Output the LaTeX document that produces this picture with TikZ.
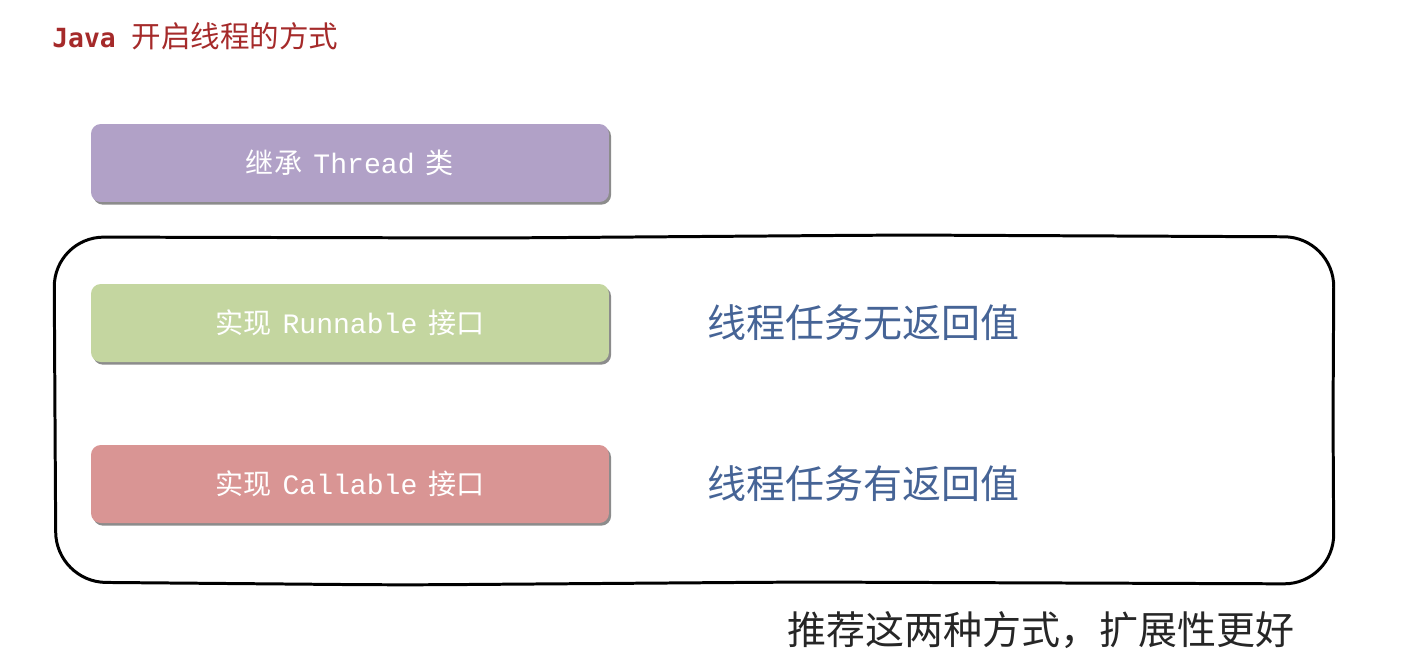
\documentclass[tikz,border=0pt]{standalone}
\usepackage{fontspec}
\setmonofont{Liberation Mono}
\newfontfamily\cjk{Noto Sans CJK SC}
\newfontfamily\javafont{DejaVu Sans Mono}
\usepackage{tikz}
\usetikzlibrary{shapes,positioning,shadows}
\usepackage{xcolor}
\definecolor{titlered}{RGB}{165,42,42}
\definecolor{waypurple}{RGB}{177,161,199}
\definecolor{waygreen}{RGB}{196,214,160}
\definecolor{wayred}{RGB}{217,149,148}
\definecolor{noteblue}{RGB}{70,100,150}

\begin{document}
\begin{tikzpicture}[x=0.02cm, y=-0.02cm,
    way/.style={rectangle, rounded corners=5.5pt, minimum width=10.36cm, minimum height=1.56cm,
        text=white, font=\cjk\fontsize{16}{18}\selectfont,
        drop shadow={shadow xshift=1.2pt, shadow yshift=-1.5pt, fill=black, opacity=0.45}},
    note/.style={font=\cjk\fontsize{22.2}{26}\selectfont, text=noteblue, anchor=west, inner sep=0pt},
    frame/.style={draw=black, line width=1.7pt, rounded corners=1cm}
]
    \useasboundingbox (0,0) rectangle (1406,660);

    % title
    \node[anchor=west, inner sep=0pt, text=titlered] (title) at (52,36)
        {{\javafont\bfseries\fontsize{15}{16}\selectfont Java}\hspace{0.9em}{\cjk\fontsize{16.8}{18}\selectfont 开启线程的方式}};

    % three ways
    \node[way, fill=waypurple] (thread) at (350,163) {继承\hspace{0.4em}{\ttfamily Thread}\hspace{0.4em}类};
    \node[way, fill=waygreen] (runnable) at (350,323) {实现\hspace{0.4em}{\ttfamily Runnable}\hspace{0.4em}接口};
    \node[way, fill=wayred] (callable) at (350,484) {实现\hspace{0.4em}{\ttfamily Callable}\hspace{0.4em}接口};

    % hand drawn frame
    \draw[frame] (55,420) -- (54,237) -- (500,238) -- (900,235) -- (1334,237)
        -- (1333,420) -- (1334,584) -- (800,582) -- (400,585) -- (56,582) -- cycle;

    \node[note] (noret) at (707,323) {线程任务无返回值};
    \node[note] (ret) at (707,484) {线程任务有返回值};
    \node[note, text=black!85] (advice) at (787,630) {推荐这两种方式，扩展性更好};
\end{tikzpicture}
\end{document}
